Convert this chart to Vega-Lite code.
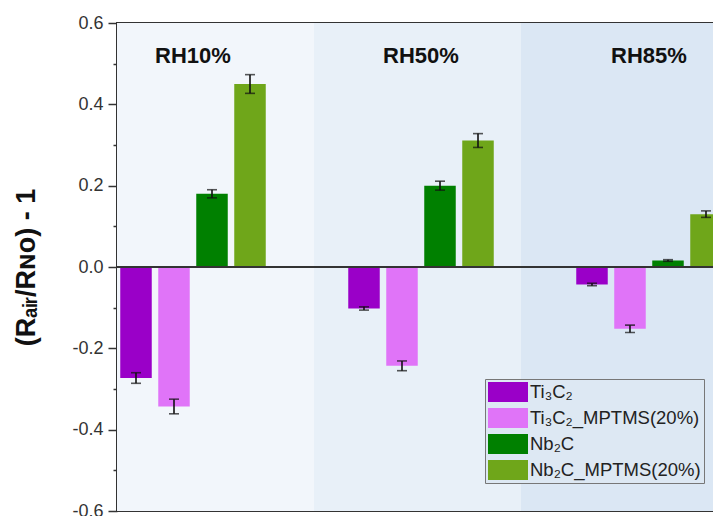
{
  "$schema": "https://vega.github.io/schema/vega-lite/v6.json",
  "width": 596,
  "height": 488,
  "autosize": {"type": "none"},
  "padding": {"left": 117, "top": 23, "right": 0, "bottom": 5},
  "background": "white",
  "config": {
    "view": {"stroke": "#333333", "strokeWidth": 2},
    "font": "Liberation Sans"
  },
  "datasets": {
    "groups": [
      {"RH": "RH10%"},
      {"RH": "RH50%"},
      {"RH": "RH85%"}
    ],
    "bars": [
      {"RH": "RH10%", "series": "Ti₃C₂", "value": -0.273, "err": 0.013},
      {"RH": "RH10%", "series": "Ti₃C₂_MPTMS(20%)", "value": -0.343, "err": 0.018},
      {"RH": "RH10%", "series": "Nb₂C", "value": 0.180, "err": 0.010},
      {"RH": "RH10%", "series": "Nb₂C_MPTMS(20%)", "value": 0.450, "err": 0.023},
      {"RH": "RH50%", "series": "Ti₃C₂", "value": -0.102, "err": 0.004},
      {"RH": "RH50%", "series": "Ti₃C₂_MPTMS(20%)", "value": -0.243, "err": 0.012},
      {"RH": "RH50%", "series": "Nb₂C", "value": 0.200, "err": 0.011},
      {"RH": "RH50%", "series": "Nb₂C_MPTMS(20%)", "value": 0.311, "err": 0.017},
      {"RH": "RH85%", "series": "Ti₃C₂", "value": -0.043, "err": 0.003},
      {"RH": "RH85%", "series": "Ti₃C₂_MPTMS(20%)", "value": -0.152, "err": 0.009},
      {"RH": "RH85%", "series": "Nb₂C", "value": 0.016, "err": 0.002},
      {"RH": "RH85%", "series": "Nb₂C_MPTMS(20%)", "value": 0.130, "err": 0.008}
    ]
  },
  "resolve": {"scale": {"x": "independent"}, "axis": {"x": "independent"}},
  "layer": [
    {
      "data": {"name": "groups"},
      "mark": {"type": "rect", "clip": true},
      "encoding": {
        "x": {
          "field": "RH", "type": "nominal", "axis": null,
          "scale": {"type": "band", "domain": ["RH10%", "RH50%", "RH85%"], "range": [-10, 611], "paddingInner": 0, "paddingOuter": 0}
        },
        "fill": {
          "field": "RH", "type": "nominal", "legend": null,
          "scale": {"domain": ["RH10%", "RH50%", "RH85%"], "range": ["#f2f6fb", "#e8f0f8", "#dbe7f4"]}
        }
      }
    },
    {
      "data": {"name": "bars"},
      "layer": [
        {
          "mark": {"type": "bar", "clip": true},
          "encoding": {
            "x": {
              "field": "RH", "type": "nominal", "axis": null,
              "scale": {"type": "band", "domain": ["RH10%", "RH50%", "RH85%"], "range": [0, 608], "paddingInner": 0.3333, "paddingOuter": 0}
            },
            "xOffset": {
              "field": "series", "type": "nominal",
              "scale": {"domain": ["Ti₃C₂", "Ti₃C₂_MPTMS(20%)", "Nb₂C", "Nb₂C_MPTMS(20%)"], "paddingInner": 0.171, "paddingOuter": 0.0855}
            },
            "y": {
              "field": "value", "type": "quantitative",
              "title": "(Rₐᵢᵣ/Rɴᴏ) - 1",
              "scale": {"domain": [-0.6, 0.6], "nice": false, "zero": false},
              "axis": {
                "title": "(Rₐᵢᵣ/Rɴᴏ) - 1",
                "titleFont": "Liberation Sans",
                "titleFontSize": 27,
                "titleFontWeight": "bold",
                "titleColor": "#111111",
                "titlePadding": 31,
                "values": [-0.6, -0.5, -0.4, -0.3, -0.2, -0.1, 0, 0.1, 0.2, 0.3, 0.4, 0.5, 0.6],
                "labelExpr": "round(datum.value*10) % 2 === 0 ? replace(format(datum.value, '.1f'), '−', '-') : ''",
                "labelFont": "Liberation Sans",
                "labelFontSize": 18,
                "labelColor": "#333333",
                "labelPadding": 5,
                "labelOverlap": false,
                "labelBound": false,
                "labelFlush": false,
                "grid": false,
                "domainColor": "#333333",
                "domainWidth": 2,
                "tickColor": "#333333",
                "tickWidth": 1.5,
                "tickSize": {"condition": {"test": "round(datum.value*10) % 2 !== 0", "value": 4}, "value": 9}
              }
            },
            "color": {
              "field": "series", "type": "nominal",
              "scale": {"domain": ["Ti₃C₂", "Ti₃C₂_MPTMS(20%)", "Nb₂C", "Nb₂C_MPTMS(20%)"], "range": ["#9a00c8", "#e074f8", "#008000", "#6fa61a"]},
              "legend": {
                "title": null,
                "orient": "none",
                "legendX": 368,
                "legendY": 356,
                "direction": "vertical",
                "fillColor": "#dde8f3",
                "strokeColor": "#777777",
                "padding": 3,
                "symbolType": "M-2,-1H2V1H-2Z",
                "symbolSize": 400,
                "symbolOffset": 10,
                "symbolStrokeWidth": 0,
                "symbolOpacity": 1,
                "labelFont": "Liberation Sans",
                "labelFontSize": 18.5,
                "labelColor": "#222222",
                "labelOffset": 12,
                "labelLimit": 300,
                "rowPadding": 6
              }
            }
          }
        },
        {
          "mark": {"type": "rule", "color": "#333333", "strokeWidth": 2},
          "encoding": {"y": {"datum": 0, "type": "quantitative"}}
        },
        {
          "mark": {"type": "errorbar", "ticks": {"size": 10, "thickness": 1.6, "color": "#111111"}, "rule": {"strokeWidth": 1.6, "color": "#111111"}, "clip": true},
          "encoding": {
            "x": {"field": "RH", "type": "nominal"},
            "xOffset": {"field": "series", "type": "nominal"},
            "y": {"field": "value", "type": "quantitative", "title": "(Rₐᵢᵣ/Rɴᴏ) - 1"},
            "yError": {"field": "err"}
          }
        },
        {
          "data": {"name": "groups"},
          "mark": {"type": "text", "font": "Liberation Sans", "fontSize": 22, "fontWeight": "bold", "color": "#111111", "baseline": "middle", "align": "center"},
          "encoding": {
            "x": {"field": "RH", "type": "nominal"},
            "y": {"datum": 0.52, "type": "quantitative"},
            "text": {"field": "RH"}
          }
        }
      ]
    }
  ]
}
